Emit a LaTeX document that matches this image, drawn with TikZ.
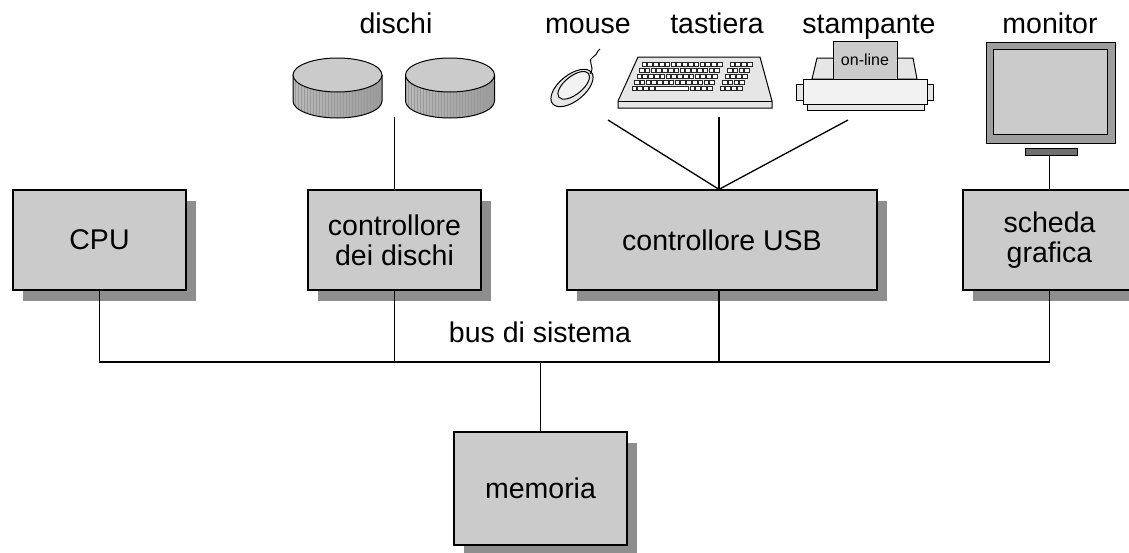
\documentclass[tikz,border=0pt]{standalone}
\usepackage{fontspec}
\setmainfont{Liberation Sans}
\usetikzlibrary{shadows,positioning}
\definecolor{boxgray}{HTML}{CBCBCB}
\definecolor{shadowgray}{HTML}{8E8E8E}
\definecolor{drumlight}{HTML}{BABABA}
\definecolor{drumdark}{HTML}{9C9C9C}
\definecolor{lightdev}{HTML}{E6E6E6}
\definecolor{devwhite}{HTML}{F2F2F2}
\definecolor{framegray}{HTML}{9E9E9E}
\definecolor{standgray}{HTML}{707070}
\newcommand{\bigfont}{\fontsize{28.5}{30}\selectfont}
\tikzset{unitbox/.style={draw,line width=1.3pt,fill=boxgray,minimum width=173pt,minimum height=100pt,inner sep=0,align=center,font=\bigfont,
        drop shadow={shadow xshift=10pt,shadow yshift=-11pt,fill=shadowgray,opacity=1}},
    wire/.style={line width=1.3pt},
    devline/.style={line width=1pt},
    devlabel/.style={font=\bigfont,anchor=base},
    keycap/.style={fill=white,draw=black!85,line width=0.9pt},
    drumstripe/.style={draw=black!40,line width=0.3pt}
}
\newcommand{\diskdrum}[2]
{
% args: (x of centre, y of centre of top face)
    \begin{scope}
        \clip ({#1-44.5},#2) -- ++(0,26) arc [start angle=180,end angle=360,x radius=44.5pt,y radius=17pt] -- ++(0,-26) -- cycle;
        \shade [left color=drumlight,right color=drumdark] ({#1-44.5},{#2-20}) rectangle ({#1+44.5},{#2+45});
        \foreach \k in {-42,-39,...,42}
            \draw [drumstripe] ({#1+\k},#2) -- ++(0,45);
    \end{scope}
    \draw [devline] ({#1-44.5},#2) -- ++(0,26) arc [start angle=180,end angle=360,x radius=44.5pt,y radius=17pt] -- ++(0,-26);
    \draw [devline,fill=boxgray] (#1,#2) ellipse [x radius=44.5pt,y radius=17pt];
}
\begin{document}
\begin{tikzpicture}[x=1pt,y=-1pt]

\fill [white] (0,0) rectangle (1129,552);
\useasboundingbox (0,0) rectangle (1129,552);

% units on the bus
\node (cpu) [unitbox] at (99.5,240) {CPU};
\node (diskctl) [unitbox] at (394.5,240) {controllore\\dei dischi};
\node (usbctl) [unitbox,minimum width=310pt] at (722,240) {controllore USB};
\node (gfxcard) [unitbox] at (1049.5,240) {scheda\\grafica};
\node (memory) [unitbox,minimum height=113pt] at (540.5,488.5) {memoria};

\coordinate (busline) at (0,362);
\node (buslabel) [devlabel] at (540,342) {bus di sistema};

\draw [wire] (cpu.south) |- (gfxcard.south |- busline) -- (gfxcard.south);
\draw [wire] (diskctl.south) -- (diskctl.south |- busline);
\draw [wire] ([xshift=-3pt]usbctl.south) -- ([xshift=-3pt]usbctl.south |- busline);
\draw [wire] (memory.north) -- (memory.north |- busline);

% device names
\node (disklabel) [devlabel] at (396,33) {dischi};
\node (mouselabel) [devlabel] at (588,33) {mouse};
\node (kbdlabel) [devlabel] at (717,33) {tastiera};
\node (printerlabel) [devlabel] at (869,33) {stampante};
\node (monitorlabel) [devlabel] at (1050,33) {monitor};

% disks
\diskdrum{337.5}{75}
\diskdrum{450}{75}
\coordinate (diskpair) at (393,117);
\draw [wire] (diskctl.north) -- (diskctl.north |- diskpair);

% mouse
\begin{scope}[rotate around={39:(572,88)}]
    \draw [devline,fill=lightdev] (572,88) ellipse [x radius=25pt,y radius=13pt];
    \draw [devline,fill=devwhite] (575,87) ellipse [x radius=19pt,y radius=9pt];
\end{scope}
\draw [devline] (590,74) .. controls (596,66) and (586,62) .. (593,57) .. controls (598,54) and (596,52) .. (600,49);

% keyboard
\draw [devline,fill=lightdev] (638,57) -- (760,57) -- (772,101) -- (772,108) -- (618,108) -- (618,101) -- cycle;
\draw [devline] (618,101) -- (772,101);
\foreach \r [evaluate=\r as \ky using 62+6*\r, evaluate=\r as \kx using 642-2.5*\r] in {0,...,3}
{
    \foreach \c in {0,...,13}
        \draw [keycap] ({\kx+5.8*\c},\ky) rectangle ++(4.6,4.6);
    \foreach \c in {0,...,3}
        \draw [keycap] ({\kx+88+5.8*\c},\ky) rectangle ++(4.6,4.6);
}
\foreach \c in {0,1,2,3,10,11,12,13}
    \draw [keycap] ({632+5.8*\c},86) rectangle ++(4.6,4.6);
\draw [keycap] ({632+5.8*4},86) rectangle ({632+5.8*9+4.6},90.6);
\foreach \c in {0,...,3}
    \draw [keycap] ({720+5.8*\c},86) rectangle ++(4.6,4.6);

% printer
\draw [devline,fill=lightdev] (796,84) rectangle (803,100);
\draw [devline,fill=lightdev] (927,84) rectangle (933,100);
\draw [devline,fill=lightdev] (812,79) -- (817,58) -- (913,58) -- (917,79) -- cycle;
\draw [devline,fill=devwhite] (803,79) rectangle (927,104);
\draw [devline,fill=lightdev] (807,104) rectangle (924,110);
\node (onlinepanel) [draw,devline,fill=boxgray,minimum width=64pt,minimum height=38pt,inner sep=0,font=\fontsize{16}{16}\selectfont] at (865,60) {on-line};

% monitor
\draw [devline,fill=framegray] (986,42) rectangle (1115,143);
\draw [devline,fill=boxgray] (993,49) rectangle (1107,134);
\node (monitorbase) [draw,devline,fill=standgray,minimum width=52pt,minimum height=7pt,inner sep=0] at (1051,151.5) {};
\draw [wire] (gfxcard.north) -- (gfxcard.north |- monitorbase.south);

% usb devices
\coordinate (mouseport) at (608,120);
\coordinate (kbdport) at (719,117);
\coordinate (printerport) at (848,120);
\foreach \dev in {mouseport,kbdport,printerport}
    \draw [wire] ([xshift=-3pt]usbctl.north) -- (\dev);

\end{tikzpicture}
\end{document}
